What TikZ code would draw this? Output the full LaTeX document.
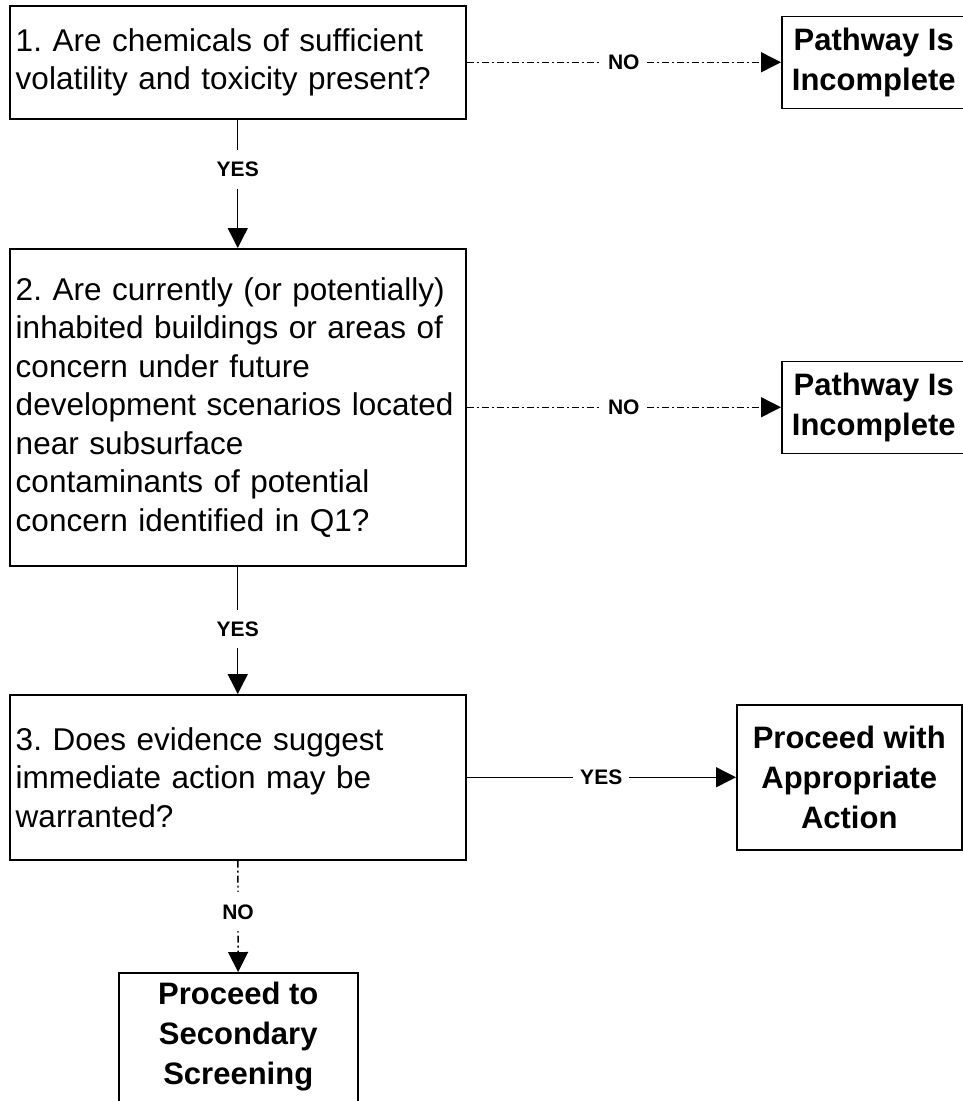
\documentclass[tikz,border=0pt]{standalone}
\usepackage{fontspec}
\setmainfont{Liberation Sans}
\usetikzlibrary{arrows.meta}
\hyphenpenalty=10000
\frenchspacing

\begin{document}
\begin{tikzpicture}[x=1pt, y=-1pt,
  question/.style = {shape=rectangle, draw, line width=1.5pt, align=left,
    anchor=north west, text width=444pt, inner xsep=6pt,
    font=\fontsize{31.5}{38.5}\selectfont},
  result/.style = {shape=rectangle, draw, line width=1.5pt, align=center,
    anchor=north west, inner sep=0pt,
    font=\fontsize{31}{40}\selectfont\bfseries},
  link/.style = {line width=1.4pt, -{Triangle[width=20pt,length=20pt]}},
  nolink/.style = {link, dash pattern=on 7pt off 3pt on 2pt off 3pt},
  answer/.style = {fill=white, inner xsep=7pt, inner ysep=12pt,
    font=\fontsize{21}{24}\selectfont\bfseries}]
  \useasboundingbox (0,0) rectangle (962,1101);
  % questions
  \node[question, minimum height=113pt] (q1) at (9,5)
    {1. Are chemicals of sufficient\\volatility and toxicity present?};
  \node[question, minimum height=317pt] (q2) at (9,248)
    {2. Are currently (or potentially)\\inhabited buildings or areas of\\concern under future\\development scenarios located\\near subsurface\\contaminants of potential\\concern identified in Q1?};
  \node[question, minimum height=165pt] (q3) at (9,694)
    {3. Does evidence suggest\\immediate action may be\\warranted?};
  % outcomes
  \node[result, minimum width=184pt, minimum height=92pt] (out1) at (781,15.5)
    {Pathway Is\\Incomplete};
  \node[result, minimum width=184pt, minimum height=92pt] (out2) at (781,360.5)
    {Pathway Is\\Incomplete};
  \node[result, minimum width=225pt, minimum height=145pt] (act) at (736,704)
    {Proceed with\\Appropriate\\Action};
  \node[result, minimum width=239pt, inner ysep=9pt, text depth=22pt] (scr) at (118,972)
    {Proceed to\\Secondary\\Screening};
  % connectors
  \draw[link] (q1) -- node[answer, pos=0.39] {YES} (q2);
  \draw[nolink] (q1) -- node[answer] {NO} (out1);
  \draw[link] (q2) -- node[answer, pos=0.49] {YES} (q3);
  \draw[nolink] (q2) -- node[answer] {NO} (out2);
  \draw[link] (q3) -- node[answer] {YES} (act);
  \draw[nolink] (q3) -- node[answer, pos=0.46] {NO} (scr);
\end{tikzpicture}
\end{document}
